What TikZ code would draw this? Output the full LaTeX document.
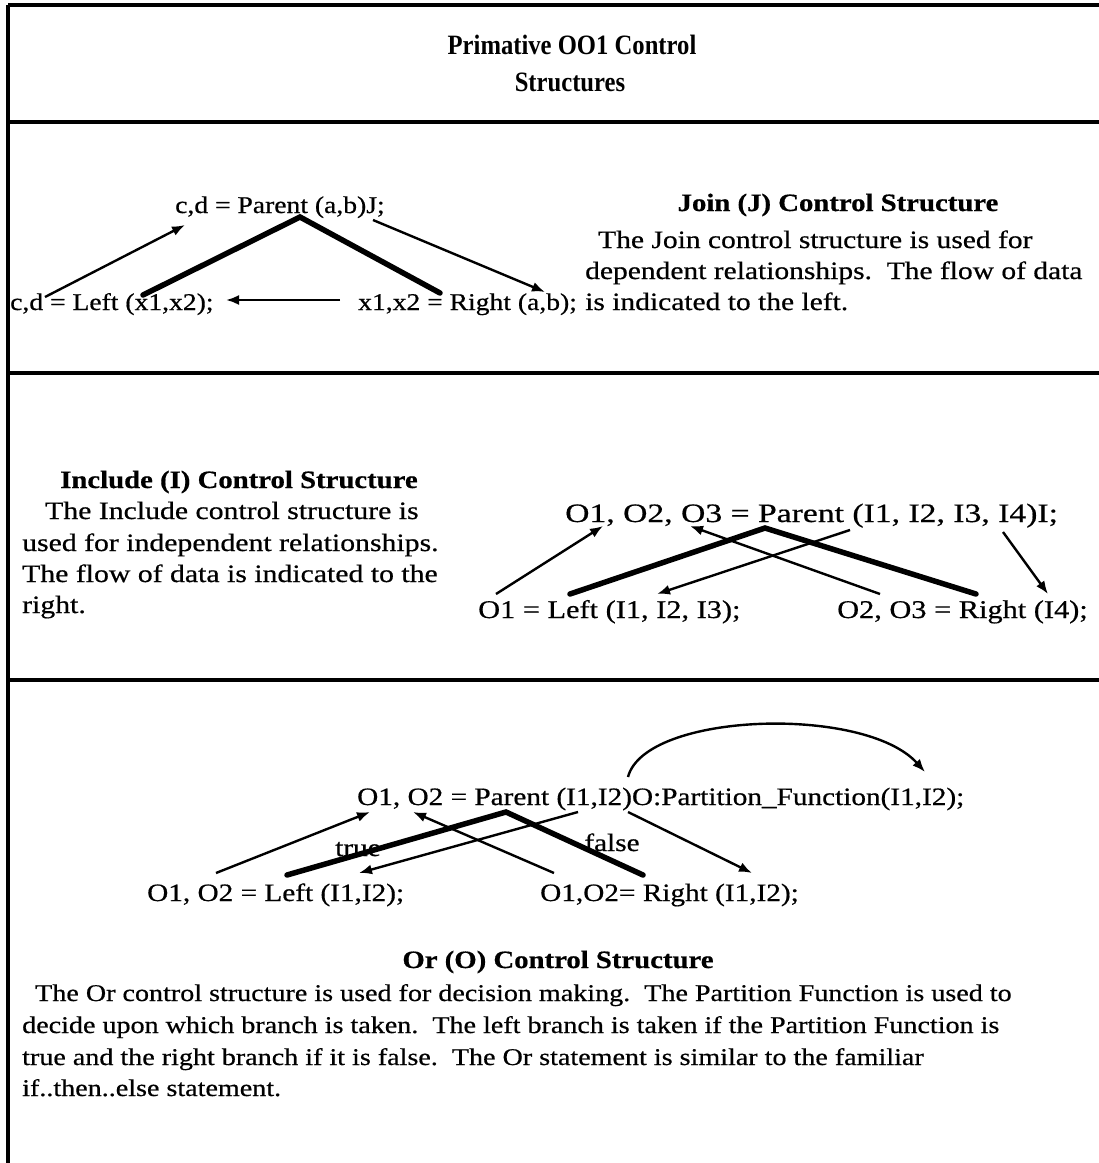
\documentclass[tikz,border=0pt]{standalone}
\usepackage{fontspec}
\setmainfont[FakeStretch=1.15,FakeBold=0.6]{Liberation Serif}
\newfontfamily\wideserif[FakeStretch=1.18,FakeBold=0.6]{Liberation Serif}
\newfontfamily\widerserif[FakeStretch=1.19,FakeBold=0.6]{Liberation Serif}
\newfontfamily\widestserif[FakeStretch=1.27,FakeBold=0.6]{Liberation Serif}
\newfontfamily\orserif[FakeStretch=1.17,FakeBold=0.6]{Liberation Serif}
\newfontfamily\narrowserif[FakeStretch=0.88]{Liberation Serif}
\usetikzlibrary{arrows.meta}
\begin{document}
\begin{tikzpicture}[x=1pt,y=-1pt,
  txt/.style={font=\fontsize{24}{30}\selectfont, inner sep=0pt, anchor=base west},
  jtxt/.style={txt, font=\wideserif\fontsize{25}{30}\selectfont},
  itxt/.style={txt, font=\widerserif\fontsize{25}{30}\selectfont},
  iform/.style={txt, font=\widerserif\fontsize{25.5}{30}\selectfont},
  ipar/.style={txt, font=\widestserif\fontsize{26.5}{30}\selectfont},
  oform/.style={txt, font=\orserif\fontsize{25}{30}\selectfont},
  otxt/.style={txt, font=\orserif\fontsize{24}{30}\selectfont},
  head/.style={font=\fontsize{25}{30}\selectfont\bfseries, inner sep=0pt, anchor=base},
  ttl/.style={font=\narrowserif\fontsize{28}{30}\selectfont\bfseries, inner sep=0pt, anchor=base},
  rule/.style={line width=3.2pt},
  flow/.style={line width=2.4pt,-{Latex[length=13pt,width=10pt]}},
  bar/.style={line width=5.5pt, line cap=round}]
\useasboundingbox (0,0) rectangle (1099,1163);

% frame
\draw[rule] (8,5) -- (1099,5);
\draw[rule] (8,5) -- (8,1163);
\draw[rule] (8,122) -- (1099,122);
\draw[rule] (8,373) -- (1099,373);
\draw[rule] (8,680) -- (1099,680);

% title
\node[ttl] (t1) at (572,54) {Primative OO1 Control};
\node[ttl] (t2) at (570,91) {Structures};

% ---------------- Join ----------------
\node[txt] (jp) at (175,213) {c,d = Parent (a,b)J;};
\node[txt] (jl) at (10,310) {c,d = Left (x1,x2);};
\node[txt] (jr) at (358,310) {x1,x2 = Right (a,b);};
\coordinate (ja1s) at (45,297);   \coordinate (ja1e) at (185,225);
\coordinate (jtl) at (143,295);   \coordinate (jta) at (300,217);  \coordinate (jtr) at (440,293);
\coordinate (ja2s) at (373,220);  \coordinate (ja2e) at (545,292);
\coordinate (ja3s) at (340,300);  \coordinate (ja3e) at (226,300);
\draw[flow] (ja1s) -- (ja1e);
\draw[bar] (jtl) -- (jta) -- (jtr);
\draw[flow] (ja2s) -- (ja2e);
\draw[flow] (ja3s) -- (ja3e);

\node[head] (jh) at (838,211) {Join (J) Control Structure};
\node[jtxt] (jd1) at (598,248) {The Join control structure is used for};
\node[jtxt] (jd2) at (585,279) {dependent relationships.\ \ The flow of data};
\node[jtxt] (jd3) at (585,310) {is indicated to the left.};

% ---------------- Include ----------------
\node[head] (ih) at (239,488) {Include (I) Control Structure};
\node[itxt] (id1) at (45,519) {The Include control structure is};
\node[itxt] (id2) at (22,551) {used for independent relationships.};
\node[itxt] (id3) at (22,582) {The flow of data is indicated to the};
\node[itxt] (id4) at (22,613) {right.};

\node[ipar] (ip) at (565,522) {O1, O2, O3 = Parent (I1, I2, I3, I4)I;};
\node[iform] (il) at (478,618) {O1 = Left (I1, I2, I3);};
\node[iform, anchor=base east] (ir) at (1088,618) {O2, O3 = Right (I4);};
\coordinate (ia1s) at (496,594);  \coordinate (ia1e) at (603,526);
\coordinate (itl) at (570,594);   \coordinate (ita) at (765,528);  \coordinate (itr) at (976,594);
\coordinate (ia2s) at (850,530);  \coordinate (ia2e) at (657,594);
\coordinate (ia3s) at (880,594);  \coordinate (ia3e) at (690,526);
\coordinate (ia4s) at (1003,532); \coordinate (ia4e) at (1048,594);
\draw[flow] (ia1s) -- (ia1e);
\draw[bar] (itl) -- (ita) -- (itr);
\draw[flow] (ia2s) -- (ia2e);
\draw[flow] (ia3s) -- (ia3e);
\draw[flow] (ia4s) -- (ia4e);

% ---------------- Or ----------------
\node[oform] (op) at (357,805) {O1, O2 = Parent (I1,I2)O:Partition\_Function(I1,I2);};
\node[oform] (ol) at (147,901) {O1, O2 = Left (I1,I2);};
\node[oform] (or) at (540,901) {O1,O2= Right (I1,I2);};
\node[oform, anchor=base] (otrue) at (358,856) {true};
\node[oform, anchor=base] (ofalse) at (612,851) {false};
\coordinate (oa1s) at (216,873); \coordinate (oa1e) at (370,812);
\coordinate (otl) at (287,875);  \coordinate (ota) at (506,812);  \coordinate (otr) at (643,875);
\coordinate (oa2s) at (554,873); \coordinate (oa2e) at (413,812);
\coordinate (oa3s) at (578,812); \coordinate (oa3e) at (359,873);
\coordinate (oa4s) at (628,812); \coordinate (oa4e) at (752,873);
\coordinate (ocs) at (628,777);  \coordinate (oce) at (925,772);
\draw[flow] (oa1s) -- (oa1e);
\draw[bar] (otl) -- (ota) -- (otr);
\draw[flow] (oa2s) -- (oa2e);
\draw[flow] (oa3s) -- (oa3e);
\draw[flow] (oa4s) -- (oa4e);
\draw[flow] (ocs) .. controls (645,712) and (865,705) .. (oce);

\node[head] (oh) at (558,968) {Or (O) Control Structure};
\node[otxt] (od1) at (35,1001) {The Or control structure is used for decision making.\ \ The Partition Function is used to};
\node[otxt] (od2) at (22,1033) {decide upon which branch is taken.\ \ The left branch is taken if the Partition Function is};
\node[otxt] (od3) at (22,1065) {true and the right branch if it is false.\ \ The Or statement is similar to the familiar};
\node[otxt] (od4) at (22,1096) {if..then..else statement.};
\end{tikzpicture}
\end{document}
